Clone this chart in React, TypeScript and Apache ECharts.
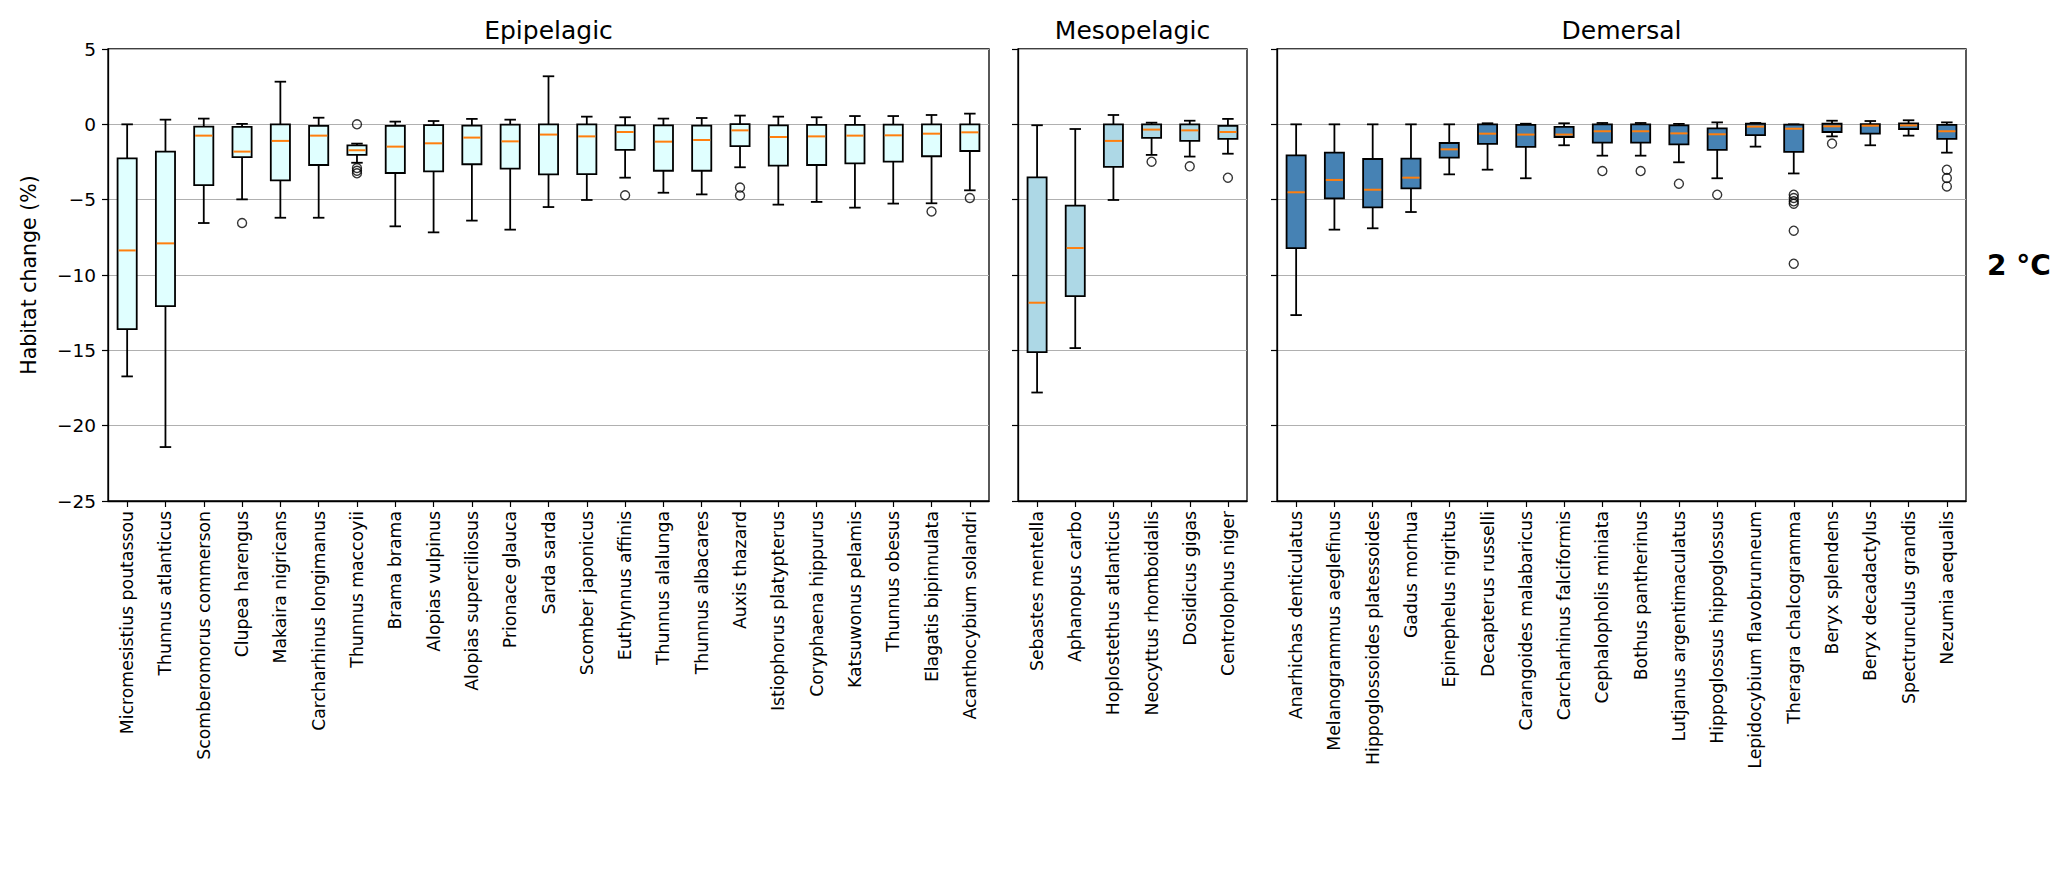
import React, { useEffect, useRef } from "react";
import * as echarts from "echarts";

// ---------- data ----------
const epiNames = [
  "Micromesistius poutassou", "Thunnus atlanticus", "Scomberomorus commerson", "Clupea harengus",
  "Makaira nigricans", "Carcharhinus longimanus", "Thunnus maccoyii", "Brama brama",
  "Alopias vulpinus", "Alopias superciliosus", "Prionace glauca", "Sarda sarda",
  "Scomber japonicus", "Euthynnus affinis", "Thunnus alalunga", "Thunnus albacares",
  "Auxis thazard", "Istiophorus platypterus", "Coryphaena hippurus", "Katsuwonus pelamis",
  "Thunnus obesus", "Elagatis bipinnulata", "Acanthocybium solandri",
];
// [lower whisker, Q1, median, Q3, upper whisker]
const epiBoxes = [
  [-16.73, -13.59, -8.37, -2.26, 0.0],
  [-21.42, -12.06, -7.9, -1.81, 0.31],
  [-6.55, -4.03, -0.75, -0.15, 0.38],
  [-4.98, -2.17, -1.81, -0.17, 0.03],
  [-6.2, -3.72, -1.1, 0.0, 2.83],
  [-6.2, -2.7, -0.75, -0.1, 0.44],
  [-2.55, -2.03, -1.72, -1.39, -1.28],
  [-6.77, -3.23, -1.48, -0.1, 0.18],
  [-7.17, -3.12, -1.26, -0.05, 0.22],
  [-6.39, -2.65, -0.88, -0.08, 0.36],
  [-6.99, -2.94, -1.13, -0.02, 0.31],
  [-5.49, -3.32, -0.68, 0.0, 3.19],
  [-5.02, -3.3, -0.8, 0.0, 0.51],
  [-3.54, -1.7, -0.51, -0.07, 0.47],
  [-4.54, -3.08, -1.15, -0.07, 0.38],
  [-4.65, -3.08, -1.04, -0.09, 0.42],
  [-2.85, -1.44, -0.4, 0.02, 0.58],
  [-5.33, -2.74, -0.84, -0.07, 0.51],
  [-5.15, -2.7, -0.8, -0.04, 0.47],
  [-5.53, -2.59, -0.75, -0.04, 0.55],
  [-5.26, -2.48, -0.73, -0.02, 0.55],
  [-5.24, -2.12, -0.62, 0.0, 0.62],
  [-4.38, -1.77, -0.53, 0.0, 0.71],
];
const epiOutliers: [string, number][] = [
  ["Clupea harengus", -6.55],
  ["Thunnus maccoyii", 0.0],
  ["Thunnus maccoyii", -2.9],
  ["Thunnus maccoyii", -3.08],
  ["Thunnus maccoyii", -3.25],
  ["Euthynnus affinis", -4.71],
  ["Auxis thazard", -4.2],
  ["Auxis thazard", -4.72],
  ["Elagatis bipinnulata", -5.78],
  ["Acanthocybium solandri", -4.89],
];

const mesoNames = [
  "Sebastes mentella", "Aphanopus carbo", "Hoplostethus atlanticus",
  "Neocyttus rhomboidalis", "Dosidicus gigas", "Centrolophus niger",
];
const mesoBoxes = [
  [-17.8, -15.12, -11.84, -3.52, -0.06],
  [-14.85, -11.4, -8.21, -5.4, -0.31],
  [-5.02, -2.83, -1.1, 0.0, 0.62],
  [-2.03, -0.9, -0.35, 0.0, 0.11],
  [-2.14, -1.1, -0.4, 0.0, 0.24],
  [-1.95, -0.97, -0.51, -0.1, 0.36],
];
const mesoOutliers: [string, number][] = [
  ["Neocyttus rhomboidalis", -2.48],
  ["Dosidicus gigas", -2.79],
  ["Centrolophus niger", -3.54],
];

const demNames = [
  "Anarhichas denticulatus", "Melanogrammus aeglefinus", "Hippoglossoides platessoides",
  "Gadus morhua", "Epinephelus nigritus", "Decapterus russelli", "Carangoides malabaricus",
  "Carcharhinus falciformis", "Cephalopholis miniata", "Bothus pantherinus",
  "Lutjanus argentimaculatus", "Hippoglossus hippoglossus", "Lepidocybium flavobrunneum",
  "Theragra chalcogramma", "Beryx splendens", "Beryx decadactylus",
  "Spectrunculus grandis", "Nezumia aequalis",
];
const demBoxes = [
  [-12.66, -8.21, -4.51, -2.06, 0.0],
  [-6.99, -4.91, -3.69, -1.88, 0.0],
  [-6.9, -5.51, -4.34, -2.3, 0.0],
  [-5.82, -4.25, -3.54, -2.28, 0.0],
  [-3.32, -2.21, -1.66, -1.24, 0.0],
  [-3.01, -1.3, -0.62, 0.0, 0.07],
  [-3.58, -1.5, -0.68, -0.04, 0.04],
  [-1.39, -0.84, -0.68, -0.17, 0.07],
  [-2.08, -1.22, -0.46, 0.0, 0.09],
  [-2.08, -1.22, -0.46, 0.0, 0.09],
  [-2.52, -1.33, -0.6, -0.07, 0.03],
  [-3.58, -1.7, -0.66, -0.27, 0.13],
  [-1.48, -0.71, -0.15, 0.04, 0.09],
  [-3.26, -1.83, -0.29, -0.02, 0.0],
  [-0.8, -0.51, -0.13, 0.04, 0.24],
  [-1.39, -0.62, -0.09, 0.02, 0.22],
  [-0.75, -0.31, -0.07, 0.07, 0.27],
  [-1.88, -0.97, -0.46, -0.04, 0.13],
];
const demOutliers: [string, number][] = [
  ["Cephalopholis miniata", -3.1],
  ["Bothus pantherinus", -3.1],
  ["Lutjanus argentimaculatus", -3.94],
  ["Hippoglossus hippoglossus", -4.67],
  ["Theragra chalcogramma", -4.67],
  ["Theragra chalcogramma", -4.89],
  ["Theragra chalcogramma", -5.11],
  ["Theragra chalcogramma", -5.27],
  ["Theragra chalcogramma", -7.06],
  ["Theragra chalcogramma", -9.25],
  ["Beryx splendens", -1.28],
  ["Nezumia aequalis", -3.01],
  ["Nezumia aequalis", -3.56],
  ["Nezumia aequalis", -4.12],
];

const panelTitles = ["Epipelagic", "Mesopelagic", "Demersal"];
const yTicks = { min: -25, max: 5, interval: 5 };
const yLabel = "Habitat change (%)";
const sideLabel = "2 °C";

// ---------- styles ----------
const FONT = "DejaVu Sans";
const fills = ["#e0ffff", "#add8e6", "#4682b4"];
const MEDIAN = "#ff7f0e";
const grids = [
  { left: 108, width: 881 },
  { left: 1018, width: 229 },
  { left: 1277, width: 689 },
];
const TOP = 49;
const HEIGHT = 452;

function makeRender(fill: string) {
  return (params: any, api: any) => {
    const i = api.value(0);
    const pLow = api.coord([i, api.value(1)]);
    const pQ1 = api.coord([i, api.value(2)]);
    const pMed = api.coord([i, api.value(3)]);
    const pQ3 = api.coord([i, api.value(4)]);
    const pHigh = api.coord([i, api.value(5)]);
    const band = api.size([1, 0])[0];
    const bw = band * 0.5;
    const cw = bw * 0.6;
    const cx = pQ1[0];
    const ls = { stroke: "#000", lineWidth: 1.8 };
    return {
      type: "group",
      children: [
        { type: "line", shape: { x1: cx, y1: pQ3[1], x2: cx, y2: pHigh[1] }, style: ls },
        { type: "line", shape: { x1: cx, y1: pQ1[1], x2: cx, y2: pLow[1] }, style: ls },
        { type: "line", shape: { x1: cx - cw / 2, y1: pHigh[1], x2: cx + cw / 2, y2: pHigh[1] }, style: ls },
        { type: "line", shape: { x1: cx - cw / 2, y1: pLow[1], x2: cx + cw / 2, y2: pLow[1] }, style: ls },
        {
          type: "rect",
          shape: { x: cx - bw / 2, y: pQ3[1], width: bw, height: pQ1[1] - pQ3[1] },
          style: { fill, stroke: "#000", lineWidth: 1.8 },
        },
        {
          type: "line",
          shape: { x1: cx - bw / 2 + 1, y1: pMed[1], x2: cx + bw / 2 - 1, y2: pMed[1] },
          style: { stroke: MEDIAN, lineWidth: 2 },
        },
      ],
    };
  };
}

const minus = (v: number) => (v < 0 ? "\u2212" + Math.abs(v) : String(v));

export default function App() {
  const ref = useRef<HTMLDivElement>(null);
  useEffect(() => {
    if (!ref.current) return;
    const chart = echarts.init(ref.current, undefined, { renderer: "svg" });
    const names = [epiNames, mesoNames, demNames];
    const boxes = [epiBoxes, mesoBoxes, demBoxes];
    const outs = [epiOutliers, mesoOutliers, demOutliers];

    const option: any = {
      animation: false,
      backgroundColor: "#fff",
      textStyle: { fontFamily: FONT },
      grid: grids.map((g) => ({
        left: g.left,
        width: g.width,
        top: TOP,
        height: HEIGHT,
        show: true,
        borderColor: "#000",
        borderWidth: 1.3,
        backgroundColor: "transparent",
        containLabel: false,
      })),
      xAxis: names.map((n, gi) => ({
        gridIndex: gi,
        type: "category",
        data: n,
        boundaryGap: true,
        position: "bottom",
        axisLine: { show: true, onZero: false, lineStyle: { color: "#000", width: 1.3 } },
        axisTick: { show: true, alignWithLabel: true, length: 6, lineStyle: { color: "#000", width: 1.2 } },
        axisLabel: { interval: 0, rotate: 90, fontSize: 17.3, color: "#000", fontFamily: FONT, margin: 10 },
        splitLine: { show: false },
      })),
      yAxis: names.map((_, gi) => ({
        gridIndex: gi,
        type: "value",
        min: yTicks.min,
        max: yTicks.max,
        interval: yTicks.interval,
        axisLine: { show: true, onZero: false, lineStyle: { color: "#000", width: 1.3 } },
        axisTick: { show: true, length: 6, lineStyle: { color: "#000", width: 1.2 } },
        axisLabel: {
          show: gi === 0,
          fontSize: 18.5,
          color: "#000",
          fontFamily: FONT,
          margin: 12,
          formatter: minus,
        },
        splitLine: { show: true, lineStyle: { color: "#b0b0b0", width: 1.1 } },
      })),
      series: [
        ...boxes.map((b, gi) => ({
          type: "custom",
          xAxisIndex: gi,
          yAxisIndex: gi,
          renderItem: makeRender(fills[gi]),
          encode: { x: 0, y: [1, 2, 3, 4, 5] },
          data: b.map((row, i) => [i, ...row]),
          z: 3,
        })),
        ...outs.map((o, gi) => ({
          type: "scatter",
          xAxisIndex: gi,
          yAxisIndex: gi,
          symbol: "circle",
          symbolSize: 9,
          itemStyle: { color: "rgba(0,0,0,0)", borderColor: "#000", borderWidth: 1.4 },
          data: o.map(([name, v]) => [name, v]),
          z: 4,
        })),
      ],
      graphic: [
        ...panelTitles.map((t, gi) => ({
          type: "text",
          x: grids[gi].left + grids[gi].width / 2,
          y: 30,
          style: {
            text: t,
            fontSize: 25,
            fontFamily: FONT,
            fill: "#000",
            textAlign: "center",
            textVerticalAlign: "middle",
          },
        })),
        {
          type: "text",
          x: 29,
          y: TOP + HEIGHT / 2,
          rotation: Math.PI / 2,
          style: {
            text: yLabel,
            fontSize: 20.5,
            fontFamily: FONT,
            fill: "#000",
            textAlign: "center",
            textVerticalAlign: "middle",
          },
        },
        {
          type: "text",
          x: 2019,
          y: 265,
          style: {
            text: sideLabel,
            fontSize: 28,
            fontWeight: "bold",
            fontFamily: FONT,
            fill: "#000",
            textAlign: "center",
            textVerticalAlign: "middle",
          },
        },
      ],
    };
    chart.setOption(option);
    return () => chart.dispose();
  }, []);
  return (
    <div
      ref={ref}
      style={{ position: "absolute", left: 0, top: 0, width: 2067, height: 877 }}
    />
  );
}
